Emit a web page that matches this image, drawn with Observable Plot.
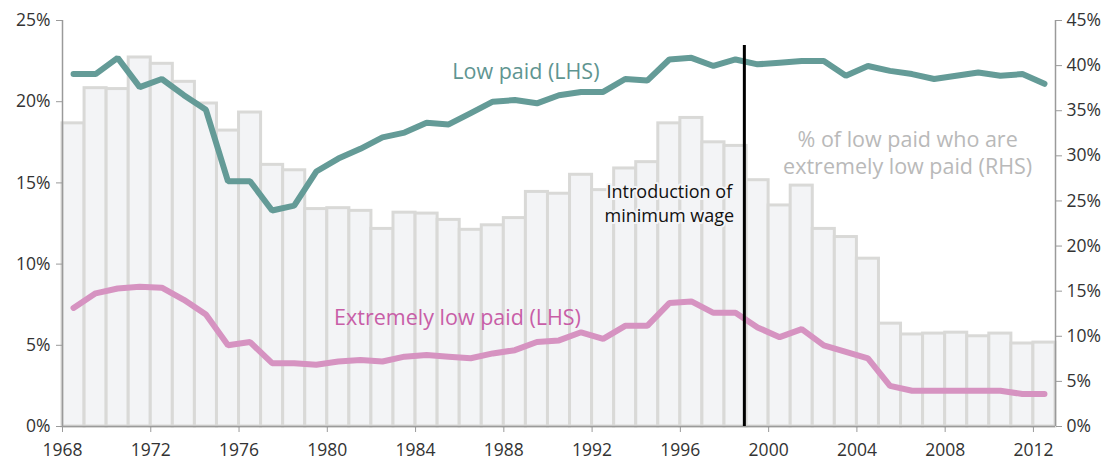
<!DOCTYPE html>
<html>
<head>
<meta charset="utf-8">
<script src="https://cdn.jsdelivr.net/npm/d3@7"></script>
<script src="https://cdn.jsdelivr.net/npm/@observablehq/plot@0.6"></script>
<style>
  html, body { margin: 0; padding: 0; background: #fff; }
  #chart svg { display: block; }
</style>
</head>
<body>
<div id="chart"></div>
<script>
const years = d3.range(1968, 2013);
// Low paid, % of employees (LHS)
const lowPaid = [21.7, 21.7, 22.7, 20.9, 21.4, 20.4, 19.5, 15.1, 15.1, 13.3,
  13.6, 15.7, 16.5, 17.1, 17.8, 18.1, 18.7, 18.6, 19.3, 20.0,
  20.1, 19.9, 20.4, 20.6, 20.6, 21.4, 21.3, 22.6, 22.7, 22.2,
  22.6, 22.3, 22.4, 22.5, 22.5, 21.6, 22.2, 21.9, 21.7, 21.4,
  21.6, 21.8, 21.6, 21.7, 21.1];
// Extremely low paid, % of employees (LHS)
const extremelyLowPaid = [7.3, 8.2, 8.5, 8.6, 8.55, 7.8, 6.9, 5.0, 5.2, 3.9,
  3.9, 3.8, 4.0, 4.1, 4.0, 4.3, 4.4, 4.3, 4.2, 4.5,
  4.7, 5.2, 5.3, 5.8, 5.4, 6.2, 6.2, 7.6, 7.7, 7.0,
  7.0, 6.1, 5.5, 6.0, 5.0, 4.6, 4.2, 2.5, 2.2, 2.2,
  2.2, 2.2, 2.2, 2.0, 2.0];
// % of low paid who are extremely low paid (RHS)
const shareExtreme = [33.6, 37.5, 37.4, 40.9, 40.2, 38.2, 35.8, 32.8, 34.8, 29.0,
  28.4, 24.1, 24.2, 23.9, 21.9, 23.7, 23.6, 22.9, 21.8, 22.3,
  23.1, 26.0, 25.8, 27.9, 26.2, 28.6, 29.3, 33.6, 34.2, 31.5,
  31.1, 27.3, 24.5, 26.7, 21.9, 21.0, 18.6, 11.4, 10.2, 10.3,
  10.4, 10.0, 10.3, 9.2, 9.3];
const leftTicks = [0, 5, 10, 15, 20, 25];
const rightTicks = [0, 5, 10, 15, 20, 25, 30, 35, 40, 45];
const xTicks = d3.range(1968, 2013, 4);
const minWageYear = 1998.9;

const LMAX = 25, RMAX = 45;
const toL = v => v * LMAX / RMAX;

const rows = years.map((y, i) => ({year: y, low: lowPaid[i], ext: extremelyLowPaid[i], share: shareExtreme[i]}));

const GREEN = "#649b97", PINK = "#d693c1", BARFILL = "#f3f4f6", BARSTROKE = "#d9d9d7";
const FONT = "'Open Sans', sans-serif";
const TICKFS = 17.5;

const chart = Plot.plot({
  width: 1112,
  height: 460,
  marginLeft: 62,
  marginRight: 57,
  marginTop: 20,
  marginBottom: 34,
  style: {fontFamily: FONT, color: "#333", background: "#fff"},
  x: {domain: [1968, 2013]},
  y: {domain: [0, LMAX]},
  marks: [
    Plot.rectY(rows, {x1: "year", x2: d => d.year + 1, y1: 0, y2: d => toL(d.share),
      fill: BARFILL, stroke: BARSTROKE, strokeWidth: 3, inset: 0}),
    Plot.ruleY([0], {stroke: "#9a9a9a", strokeWidth: 1.5}),
    Plot.ruleX([1968], {stroke: "#9a9a9a", strokeWidth: 1.5}),
    Plot.ruleX([2013], {stroke: "#9a9a9a", strokeWidth: 1.5}),
    Plot.axisY({ticks: leftTicks, anchor: "left", tickSize: 6, tickPadding: 6,
      tickFormat: d => d + "%", label: null, fontSize: TICKFS, stroke: "#9a9a9a", fill: "#333"}),
    Plot.axisY({ticks: rightTicks.map(toL), anchor: "right", tickSize: 6, tickPadding: 5,
      tickFormat: d => Math.round(d * RMAX / LMAX) + "%", label: null, fontSize: TICKFS, stroke: "#9a9a9a", fill: "#333"}),
    Plot.axisX({ticks: xTicks, anchor: "bottom", tickSize: 6, tickPadding: 11,
      tickFormat: d => String(d), label: null, fontSize: TICKFS, stroke: "#9a9a9a", fill: "#333"}),
    Plot.line(rows, {x: d => d.year + 0.5, y: "ext", stroke: PINK, strokeWidth: 6, strokeLinejoin: "miter"}),
    Plot.line(rows, {x: d => d.year + 0.5, y: "low", stroke: GREEN, strokeWidth: 6, strokeLinejoin: "miter"}),
    Plot.ruleX([minWageYear], {y1: 0, y2: 23.46, stroke: "#000", strokeWidth: 3}),
    Plot.text(["Introduction of\nminimum wage"], {x: 1995.5, y: 13.8, fontSize: 18, fill: "#111",
      lineHeight: 1.33, stroke: BARFILL, strokeWidth: 4}),
    Plot.text(["Low paid (LHS)"], {x: 1989, y: 21.8, fontSize: 21.5, fill: "#5f9591"}),
    Plot.text(["Extremely low paid (LHS)"], {x: 1985.9, y: 6.7, fontSize: 21.5, fill: "#c85ea7"}),
    Plot.text(["% of low paid who are\nextremely low paid (RHS)"], {x: 2006.3, y: 16.9, fontSize: 21.5,
      fill: "#b9b9b9", lineHeight: 1.25})
  ]
});
document.getElementById("chart").appendChild(chart);
</script>
</body>
</html>
